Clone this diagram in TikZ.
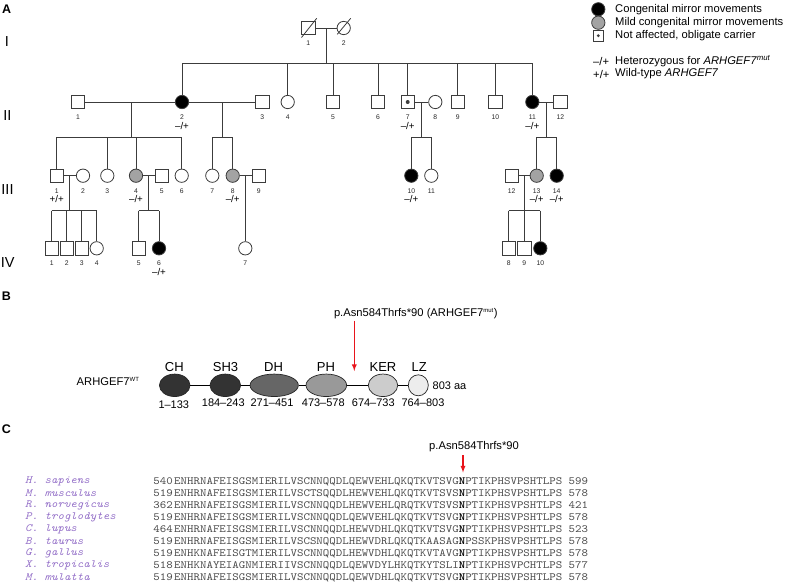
\documentclass[tikz,border=0pt]{standalone}
\usepackage{fontspec}
\setmainfont{Liberation Sans}
\newfontfamily\seqfont{lmmono10}[Extension=.otf, UprightFont=*-regular, ItalicFont=*-italic, BoldFont=lmmonolt10-bold, FakeStretch=1.12]
\usepackage{tikz}
\usetikzlibrary{calc,arrows,shapes.geometric}

\definecolor{pedline}{HTML}{3C3C3C}
\definecolor{mildgray}{HTML}{A3A3A3}
\definecolor{mutred}{HTML}{E8141B}
\definecolor{spcol}{HTML}{9470C8}
\definecolor{seqgray}{HTML}{4A4A4A}

% one person of the pedigree: name, x, y, style, number
\newcommand{\pers}[5]{%
  \node[#4] (#1) at (#2,#3) {};
  \node[num] (#1n) at (#2,#3+15) {#5};}

\begin{document}
\begin{tikzpicture}[>=latex,x=1pt,y=-1pt,
    sq/.style={draw=pedline,fill=white,line width=0.8pt,minimum size=13.3pt,inner sep=0pt},
    ci/.style={sq,circle},
    aff/.style={fill=black},
    mild/.style={fill=mildgray},
    ln/.style={draw=pedline,line width=0.8pt},
    num/.style={font=\fontsize{6.8}{7}\selectfont,text=black!85,inner sep=0pt},
    geno/.style={font=\fontsize{9.8}{10}\selectfont,inner sep=0pt},
    gen/.style={font=\fontsize{14.5}{15}\selectfont,inner sep=0pt},
    panel/.style={font=\fontsize{12.5}{13}\selectfont\bfseries,inner sep=0pt},
    legtxt/.style={font=\fontsize{11.2}{12}\selectfont,anchor=west,inner sep=0pt},
    dom/.style={ellipse,draw=black!85,line width=0.7pt,minimum height=22.5pt,inner sep=0pt},
    domname/.style={font=\fontsize{13}{14}\selectfont,inner sep=0pt},
    rangetxt/.style={font=\fontsize{11}{12}\selectfont,inner sep=0pt},
    mut/.style={->,draw=mutred,line width=1.3pt},
    seq/.style={font=\fontsize{11}{12}\seqfont,text=seqgray,anchor=west,inner sep=0pt},
    spec/.style={font=\fontsize{11}{12}\seqfont\itshape,text=spcol,anchor=west,inner sep=0pt}]
  \useasboundingbox (0,0) rectangle (786,584);

  % panel letters and generations
  \node[panel] (pA) at (6.7,8.7) {A};
  \node[panel] (pB) at (6.5,296) {B};
  \node[panel] (pC) at (6.3,429) {C};
  \node[gen] (gI) at (7,41.5) {I};
  \node[gen] (gII) at (7.3,116) {II};
  \node[gen] (gIII) at (7.5,189.5) {III};
  \node[gen] (gIV) at (7.8,263) {IV};

  % generation I
  \pers{I1}{308.3}{28}{sq}{1}
  \pers{I2}{343.7}{28}{ci}{2}
  \draw[ln] ([shift={(-6.8,9.5)}]I1.center) -- ([shift={(8.4,-9.7)}]I1.center);
  \draw[ln] ([shift={(-6.4,6.3)}]I2.center) -- ([shift={(7,-9.7)}]I2.center);
  \draw[ln] (I1) -- (I2);
  \coordinate (mI) at (326,28);
  \coordinate (sI) at (326,63);
  \coordinate (sIa) at (182,63);
  \coordinate (sIb) at (532.3,63);
  \draw[ln] (mI) -- (sI);
  \draw[ln] (sIa) -- (sIb);

  % generation II
  \pers{II1}{78}{102}{sq}{1}
  \pers{II2}{182}{102}{ci,aff}{2}
  \pers{II3}{262.3}{102}{sq}{3}
  \pers{II4}{287.7}{102}{ci}{4}
  \pers{II5}{333}{102}{sq}{5}
  \pers{II6}{378}{102}{sq}{6}
  \pers{II7}{407.7}{102}{sq}{7}
  \pers{II8}{435.3}{102}{ci}{8}
  \pers{II9}{457.7}{102}{sq}{9}
  \pers{II10}{495.3}{102}{sq}{10}
  \pers{II11}{532.3}{102}{ci,aff}{11}
  \pers{II12}{560.3}{102}{sq}{12}
  \fill[pedline] (II7) circle (2pt);
  \node[geno] (II2g) at (182,126) {--/+};
  \node[geno] (II7g) at (407.7,126) {--/+};
  \node[geno] (II11g) at (532.3,126) {--/+};
  \foreach \c in {II2,II4,II5,II6,II7,II9,II10,II11}
    \draw[ln] (\c |- sI) -- (\c);
  \draw[ln] (II1) -- (II2);
  \draw[ln] (II2) -- (II3);
  \draw[ln] (II7) -- (II8);
  \draw[ln] (II11) -- (II12);

  \coordinate (m1) at (131.7,102);
  \coordinate (s1) at (131.7,137);
  \coordinate (s1a) at (56.7,137);
  \coordinate (s1b) at (181.7,137);
  \coordinate (m2) at (222.3,102);
  \coordinate (s2) at (222.3,137);
  \coordinate (s2a) at (212.3,137);
  \coordinate (s2b) at (232.7,137);
  \coordinate (m3) at (421.3,102);
  \coordinate (s3) at (421.3,137);
  \coordinate (s3a) at (411.3,137);
  \coordinate (s3b) at (431.3,137);
  \coordinate (m4) at (546.7,102);
  \coordinate (s4) at (546.7,137);
  \coordinate (s4a) at (536.7,137);
  \coordinate (s4b) at (556.7,137);
  \foreach \i in {1,2,3,4} {
    \draw[ln] (m\i) -- (s\i);
    \draw[ln] (s\i a) -- (s\i b);
  }

  % generation III
  \pers{III1}{56.7}{175.7}{sq}{1}
  \pers{III2}{83}{175.7}{ci}{2}
  \pers{III3}{107.3}{175.7}{ci}{3}
  \pers{III4}{136}{175.7}{ci,mild}{4}
  \pers{III5}{161.7}{175.7}{sq}{5}
  \pers{III6}{181.7}{175.7}{ci}{6}
  \pers{III7}{212.3}{175.7}{ci}{7}
  \pers{III8}{232.7}{175.7}{ci,mild}{8}
  \pers{III9}{258.7}{175.7}{sq}{9}
  \pers{III10}{411.3}{175.7}{ci,aff}{10}
  \pers{III11}{431.3}{175.7}{ci}{11}
  \pers{III12}{511.7}{175.7}{sq}{12}
  \pers{III13}{536.7}{175.7}{ci,mild}{13}
  \pers{III14}{556.7}{175.7}{ci,aff}{14}
  \node[geno] (III1g) at (56.7,198.5) {+/+};
  \node[geno] (III4g) at (136,198.5) {--/+};
  \node[geno] (III8g) at (232.7,198.5) {--/+};
  \node[geno] (III10g) at (411.3,198.5) {--/+};
  \node[geno] (III13g) at (536.7,198.5) {--/+};
  \node[geno] (III14g) at (556.7,198.5) {--/+};
  \foreach \c in {III1,III3,III4,III6} \draw[ln] (\c |- s1) -- (\c);
  \foreach \c in {III7,III8} \draw[ln] (\c |- s2) -- (\c);
  \foreach \c in {III10,III11} \draw[ln] (\c |- s3) -- (\c);
  \foreach \c in {III13,III14} \draw[ln] (\c |- s4) -- (\c);
  \draw[ln] (III1) -- (III2);
  \draw[ln] (III4) -- (III5);
  \draw[ln] (III8) -- (III9);
  \draw[ln] (III12) -- (III13);

  \coordinate (m5) at (69.7,175.7);
  \coordinate (s5) at (69.7,210.7);
  \coordinate (s5a) at (51.7,210.7);
  \coordinate (s5b) at (96.7,210.7);
  \coordinate (m6) at (148.3,175.7);
  \coordinate (s6) at (148.3,210.7);
  \coordinate (s6a) at (138.7,210.7);
  \coordinate (s6b) at (159,210.7);
  \coordinate (m7) at (245.3,175.7);
  \coordinate (m8) at (524.3,175.7);
  \coordinate (s8) at (524.3,210.7);
  \coordinate (s8a) at (508.7,210.7);
  \coordinate (s8b) at (540.3,210.7);
  \foreach \i in {5,6,8} {
    \draw[ln] (m\i) -- (s\i);
    \draw[ln] (s\i a) -- (s\i b);
  }

  % generation IV
  \pers{IV1}{51.7}{248.3}{sq}{1}
  \pers{IV2}{66.7}{248.3}{sq}{2}
  \pers{IV3}{81.7}{248.3}{sq}{3}
  \pers{IV4}{96.7}{248.3}{ci}{4}
  \pers{IV5}{138.7}{248.3}{sq}{5}
  \pers{IV6}{159}{248.3}{ci,aff}{6}
  \pers{IV7}{245.3}{248.3}{ci}{7}
  \pers{IV8}{508.7}{248.3}{sq}{8}
  \pers{IV9}{524.3}{248.3}{sq}{9}
  \pers{IV10}{540.3}{248.3}{ci,aff}{10}
  \node[geno] (IV6g) at (159,271.8) {--/+};
  \foreach \c in {IV1,IV2,IV3,IV4} \draw[ln] (\c |- s5) -- (\c);
  \foreach \c in {IV5,IV6} \draw[ln] (\c |- s6) -- (\c);
  \draw[ln] (m7) -- (IV7);
  \foreach \c in {IV8,IV9,IV10} \draw[ln] (\c |- s8) -- (\c);

  % legend
  \node[ci,aff] (lg1) at (598.3,9.3) {};
  \node[legtxt] (lg1t) at (615,9.3) {Congenital mirror movements};
  \node[ci,mild] (lg2) at (598.3,22.7) {};
  \node[legtxt] (lg2t) at (615,22.7) {Mild congenital mirror movements};
  \node[sq,minimum size=10.7pt] (lg3) at (598.3,35.7) {};
  \fill[pedline] (lg3) circle (1.6pt);
  \node[legtxt] (lg3t) at (615,35.7) {Not affected, obligate carrier};
  \node[legtxt] (lg4a) at (593,61) {--/+};
  \node[legtxt] (lg4t) at (615,61) {Heterozygous for \textit{ARHGEF7}\textsuperscript{\textit{mut}}};
  \node[legtxt] (lg5a) at (593,74) {+/+};
  \node[legtxt] (lg5t) at (615,74) {Wild-type \textit{ARHGEF7}};

  % B: protein domains
  \node[legtxt] (wt) at (76.5,381) {ARHGEF7\textsuperscript{\fontsize{6}{6}\selectfont WT}};
  \node[dom,fill=black!80,minimum width=30.6pt] (CH) at (174.7,385.3) {};
  \node[dom,fill=black!80,minimum width=30.6pt] (SH3) at (225.3,385.3) {};
  \node[dom,fill=black!60,minimum width=48.3pt] (DH) at (274.2,385.3) {};
  \node[dom,fill=black!40,minimum width=40.6pt] (PH) at (326.3,385.3) {};
  \node[dom,fill=black!20,minimum width=29.4pt] (KER) at (383,385.3) {};
  \node[dom,fill=black!7,minimum width=20pt,minimum height=21pt] (LZ) at (418.3,385.3) {};
  \draw[line width=0.8pt] (CH) -- (SH3) -- (DH) -- (PH) -- (KER) -- (LZ);
  \node[legtxt,font=\fontsize{11}{12}\selectfont] (len) at (432.5,386) {803 aa};
  \node[domname] (CHl) at (174.3,366.7) {CH};
  \node[domname] (SH3l) at (225.5,366.7) {SH3};
  \node[domname] (DHl) at (273.5,366.7) {DH};
  \node[domname] (PHl) at (326,366.7) {PH};
  \node[domname] (KERl) at (383,366.7) {KER};
  \node[domname] (LZl) at (419.3,366.7) {LZ};
  \node[rangetxt] (CHr) at (173.8,404.3) {1--133};
  \node[rangetxt] (SH3r) at (223.3,403) {184--243};
  \node[rangetxt] (DHr) at (272,403) {271--451};
  \node[rangetxt] (PHr) at (323.3,403) {473--578};
  \node[rangetxt] (KERr) at (373.3,403) {674--733};
  \node[rangetxt] (LZr) at (423,403) {764--803};
  \node[legtxt] (mutB) at (333.8,313.3) {p.Asn584Thrfs*90 (ARHGEF7\textsuperscript{\fontsize{6}{6}\selectfont mut})};
  \coordinate (mutBs) at (354.3,320.5);
  \coordinate (mutBe) at (354.3,371);
  \draw[mut] (mutBs) -- (mutBe);

  % C: alignment
  \node[legtxt] (mutC) at (429,446.7) {p.Asn584Thrfs*90};
  \coordinate (mutCs) at (463,455);
  \coordinate (mutCe) at (463,472.5);
  \draw[mut] (mutCs) -- (mutCe);
  \foreach \sp/\st/\pre/\post/\en [count=\i from 0] in {
      H. sapiens/540/ENHRNAFEISGSMIERILVSCNNQQDLQEWVEHLQKQTKVTSVG/PTIKPHSVPSHTLPS/599,
      M. musculus/519/ENHRNAFEISGSMIERILVSCTSQQDLHEWVEHLQKQTKVTSVS/PTIKPHSVPSHTLPS/578,
      R. norvegicus/362/ENHRNAFEISGSMIERILVSCNNQQDLHEWVEHLQRQTKVTSVS/PTIKPHSVPSHTLPS/421,
      P. troglodytes/519/ENHRNAFEISGSMIERILVSCNNQQDLQEWVEHLQKQTKVTSVG/PTIKPHSVPSHTLPS/578,
      C. lupus/464/ENHRNAFEISGSMIERILVSCNNQQDLHEWVDHLQKQTKVTSVG/PTIKPHSVPSHTLPS/523,
      B. taurus/519/ENHRNAFEISGSMIERILVSCSNQQDLHEWVDRLQKQTKAASAG/PSSKPHSVPSHTLPS/578,
      G. gallus/519/ENHKNAFEISGTMIERILVSCNNQQDLHEWVDHLQKQTKVTAVG/PTIKPHSVPSHTLPS/578,
      X. tropicalis/518/ENHKNAYEIAGNMIERIIVSCNNQQDLQEWVDYLHKQTKYTSLI/PTIKPHSVPCHTLPS/577,
      M. mulatta/519/ENHRNAFEISGSMIERILVSCNNQQDLQEWVDHLQKQTKVTSVG/PTIKPHSVPSHTLPS/578} {
    \node[spec] (sp\i) at (25,481.5+12*\i) {\sp};
    \node[seq,anchor=east] (st\i) at (173,481.5+12*\i) {\st};
    \node[seq] (sq\i) at (174,481.5+12*\i) {\pre\textcolor{black}{\bfseries N}\post};
    \node[seq] (en\i) at (568.5,481.5+12*\i) {\en};
  }
\end{tikzpicture}
\end{document}
